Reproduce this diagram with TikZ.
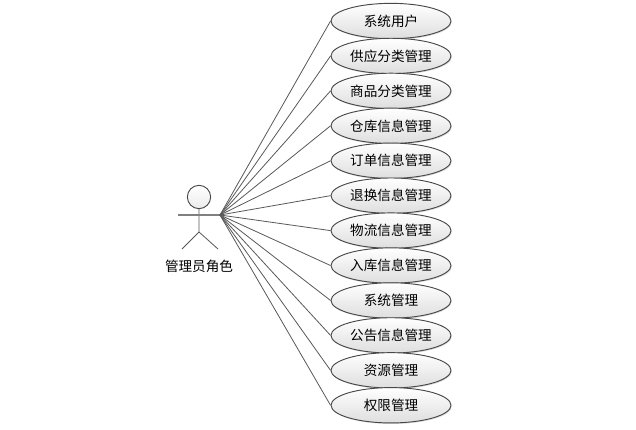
\documentclass[tikz,border=0pt]{standalone}
\usepackage{fontspec}
\usepackage{xcolor}
\usetikzlibrary{positioning,shapes.geometric,shadows}
\setmainfont{Noto Sans CJK SC}
\definecolor{edgegray}{RGB}{72,72,72}
\definecolor{linegray}{RGB}{88,88,88}
\definecolor{armgray}{RGB}{128,128,128}
\definecolor{fillgray}{RGB}{222,222,222}

\begin{document}
\begin{tikzpicture}[x=0.75pt,y=-0.75pt,node distance=26.2pt,on grid,
    usecase/.style={ellipse,draw=edgegray,line width=0.7pt,minimum width=90pt,minimum height=26.5pt,
      inner sep=0pt,top color=white,bottom color=fillgray,font=\fontsize{10.2}{12}\selectfont,
      drop shadow={shadow xshift=0.6pt,shadow yshift=-0.8pt,opacity=0.3}},
    headcircle/.style={circle,draw=edgegray,line width=0.7pt,minimum size=17.5pt,inner sep=0pt,
      top color=white,bottom color=fillgray!60},
    limb/.style={draw=linegray,line width=0.6pt}]
  \useasboundingbox (0,0) rectangle (636,429);
  \node[usecase] (u1) at (391,21) {系统用户};
  \node[usecase,below=of u1] (u2) {供应分类管理};
  \node[usecase,below=of u2] (u3) {商品分类管理};
  \node[usecase,below=of u3] (u4) {仓库信息管理};
  \node[usecase,below=of u4] (u5) {订单信息管理};
  \node[usecase,below=of u5] (u6) {退换信息管理};
  \node[usecase,below=of u6] (u7) {物流信息管理};
  \node[usecase,below=of u7] (u8) {入库信息管理};
  \node[usecase,below=of u8] (u9) {系统管理};
  \node[usecase,below=of u9] (u10) {公告信息管理};
  \node[usecase,below=of u10] (u11) {资源管理};
  \node[usecase,below=of u11] (u12) {权限管理};
  % actor
  \node[headcircle] (head) at (199,197) {};
  \coordinate (handl) at (178,215);
  \coordinate (handr) at (220,215);
  \coordinate (hip) at (199,232);
  \coordinate (footl) at (182,249);
  \coordinate (footr) at (218,249);
  \node[font=\fontsize{10.2}{12}\selectfont] (actor) at (199,266) {管理员角色};
  \draw[limb] (head) -- (hip) -- (footl)
              (hip) -- (footr);
  \draw[draw=armgray,line width=1.1pt] (handl) -- (handr);
  \foreach \i in {1,...,12}
    \draw[limb] (handr) -- (u\i.west);
\end{tikzpicture}
\end{document}
